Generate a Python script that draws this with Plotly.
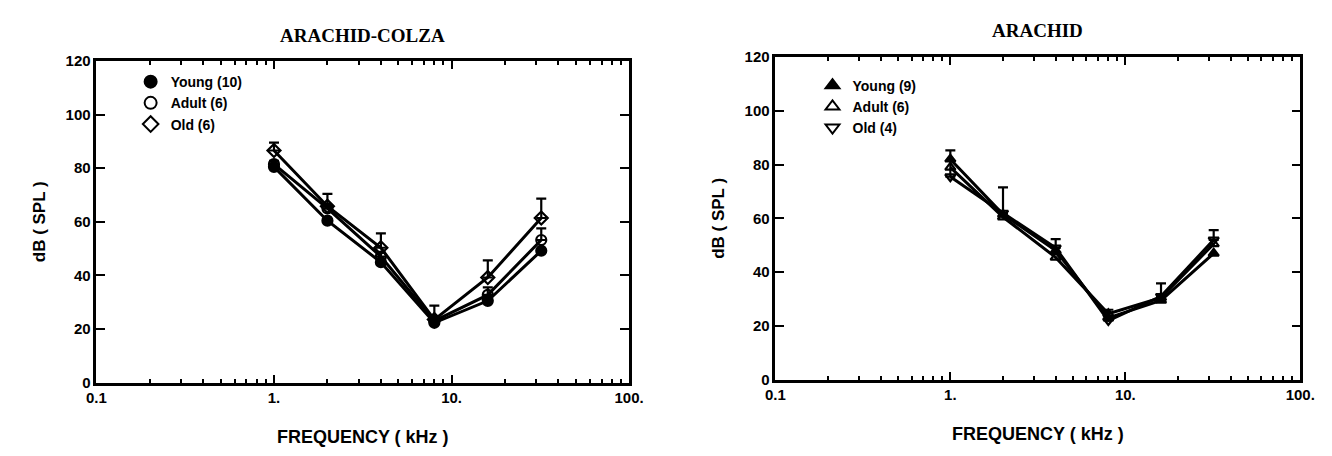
import plotly.graph_objects as go

freq = [1, 2, 4, 8, 16, 32]

# ARACHID-COLZA
ac_young = [80.5, 60.4, 44.9, 22.3, 30.5, 49.2]
ac_adult = [81.5, 65.0, 47.0, 23.0, 32.7, 53.2]
ac_old = [86.6, 65.8, 50.3, 23.5, 39.2, 61.4]
ac_old_err = [2.9, 4.6, 5.4, 5.2, 6.4, 7.2]
ac_adult_err = [1.2, 1.2, 1.5, 1.2, 2.8, 4.3]

# ARACHID
a_young = [82.0, 61.5, 48.0, 23.0, 29.5, 47.0]
a_adult = [79.0, 60.5, 45.5, 24.5, 30.5, 50.5]
a_old = [75.5, 62.0, 49.0, 22.0, 31.0, 52.0]
a_old_err = [9.8, 9.5, 3.3, 4.0, 4.8, 3.6]

tick_vals = [0.1, 1, 10, 100]
tick_text = ["0.1", "1.", "10.", "100."]
y_ticks = [0, 20, 40, 60, 80, 100, 120]

left_labels = ["Young (10)", "Adult (6)", "Old (6)"]
right_labels = ["Young (9)", "Adult (6)", "Old (4)"]

FONT = "Liberation Sans"
fig = go.Figure()

def add_series(y, xa, ya, symbol, err=None, size=10):
    fig.add_trace(go.Scatter(
        x=freq, y=y, xaxis=xa, yaxis=ya, mode="lines+markers",
        line=dict(color="black", width=3),
        marker=dict(symbol=symbol, size=size, color="black",
                    line=dict(color="black", width=2.2)),
        error_y=(dict(type="data", array=err, arrayminus=[0]*len(err),
                      symmetric=False, color="black", thickness=2.2, width=5)
                 if err is not None else None),
        showlegend=False, hoverinfo="skip"))

add_series(ac_young, "x", "y", "circle")
add_series(ac_adult, "x", "y", "circle-open", ac_adult_err)
add_series(ac_old, "x", "y", "diamond-open", ac_old_err)

add_series(a_young, "x2", "y2", "triangle-up", size=9)
add_series(a_adult, "x2", "y2", "triangle-up-open", size=9)
add_series(a_old, "x2", "y2", "triangle-down-open", a_old_err, size=9)

# legend-only marker traces
for lab, sym in zip(left_labels, ["circle", "circle-open", "diamond-open"]):
    fig.add_trace(go.Scatter(x=[None], y=[None], mode="markers", name=lab,
                             marker=dict(symbol=sym, size=8, color="black",
                                         line=dict(color="black", width=2)),
                             legend="legend", xaxis="x", yaxis="y"))
for lab, sym in zip(right_labels, ["triangle-up", "triangle-up-open", "triangle-down-open"]):
    fig.add_trace(go.Scatter(x=[None], y=[None], mode="markers", name=lab,
                             marker=dict(symbol=sym, size=7, color="black",
                                         line=dict(color="black", width=1.5)),
                             legend="legend2", xaxis="x2", yaxis="y2"))

tickfont = dict(family=FONT, size=15, color="black", weight="bold")
xtitlefont = dict(family=FONT, size=18, color="black", weight="bold")
ytitlefont = dict(family=FONT, size=17, color="black", weight="bold")

def xaxis(domain, anchor):
    return dict(domain=domain, anchor=anchor, type="log", range=[-1, 2],
                tickvals=tick_vals, ticktext=tick_text, ticks="inside",
                ticklen=8, tickwidth=2, tickcolor="black",
                minor=dict(ticks="inside", ticklen=4, tickwidth=1.5,
                           tickcolor="black", dtick="D1", showgrid=False),
                showline=True, linecolor="black", linewidth=2.5, mirror="ticks",
                showgrid=False, zeroline=False, tickfont=tickfont,
                title=dict(text="FREQUENCY ( kHz )", font=xtitlefont, standoff=26))

def yaxis(domain, anchor):
    return dict(domain=domain, anchor=anchor, range=[0, 120], tickvals=y_ticks,
                ticks="inside", ticklen=9, tickwidth=2, tickcolor="black",
                showline=True, linecolor="black", linewidth=2.5, mirror="ticks",
                showgrid=False, zeroline=False, tickfont=tickfont,
                title=dict(text="dB ( SPL )", font=ytitlefont, standoff=16))

legfont = dict(family=FONT, size=14, color="black", weight="bold")
fig.update_layout(
    width=1332, height=456, margin=dict(l=0, r=0, t=0, b=0),
    paper_bgcolor="white", plot_bgcolor="white",
    xaxis=xaxis([0.0661, 0.4737], "y"),
    yaxis=yaxis([0.1491, 0.8816], "x"),
    xaxis2=xaxis([0.5856, 0.9872], "y2"),
    yaxis2=yaxis([0.1557, 0.8904], "x2"),
    legend=dict(x=0.0923, y=0.87, xanchor="left", yanchor="top",
                bgcolor="rgba(0,0,0,0)", font=legfont, tracegroupgap=0,
                itemsizing="constant"),
    legend2=dict(x=0.614, y=0.862, xanchor="left", yanchor="top",
                 bgcolor="rgba(0,0,0,0)", font=legfont, tracegroupgap=0,
                 itemsizing="constant"),
    annotations=[
        dict(text="ARACHID-COLZA", x=0.27, y=0.94, xref="paper", yref="paper",
             xanchor="center", yanchor="middle", showarrow=False,
             font=dict(family="Liberation Serif", size=19, color="black", weight="bold")),
        dict(text="ARACHID", x=0.7864, y=0.95, xref="paper", yref="paper",
             xanchor="center", yanchor="middle", showarrow=False,
             font=dict(family="Liberation Serif", size=19, color="black", weight="bold")),
    ],
)

fig.write_html("out.html")
